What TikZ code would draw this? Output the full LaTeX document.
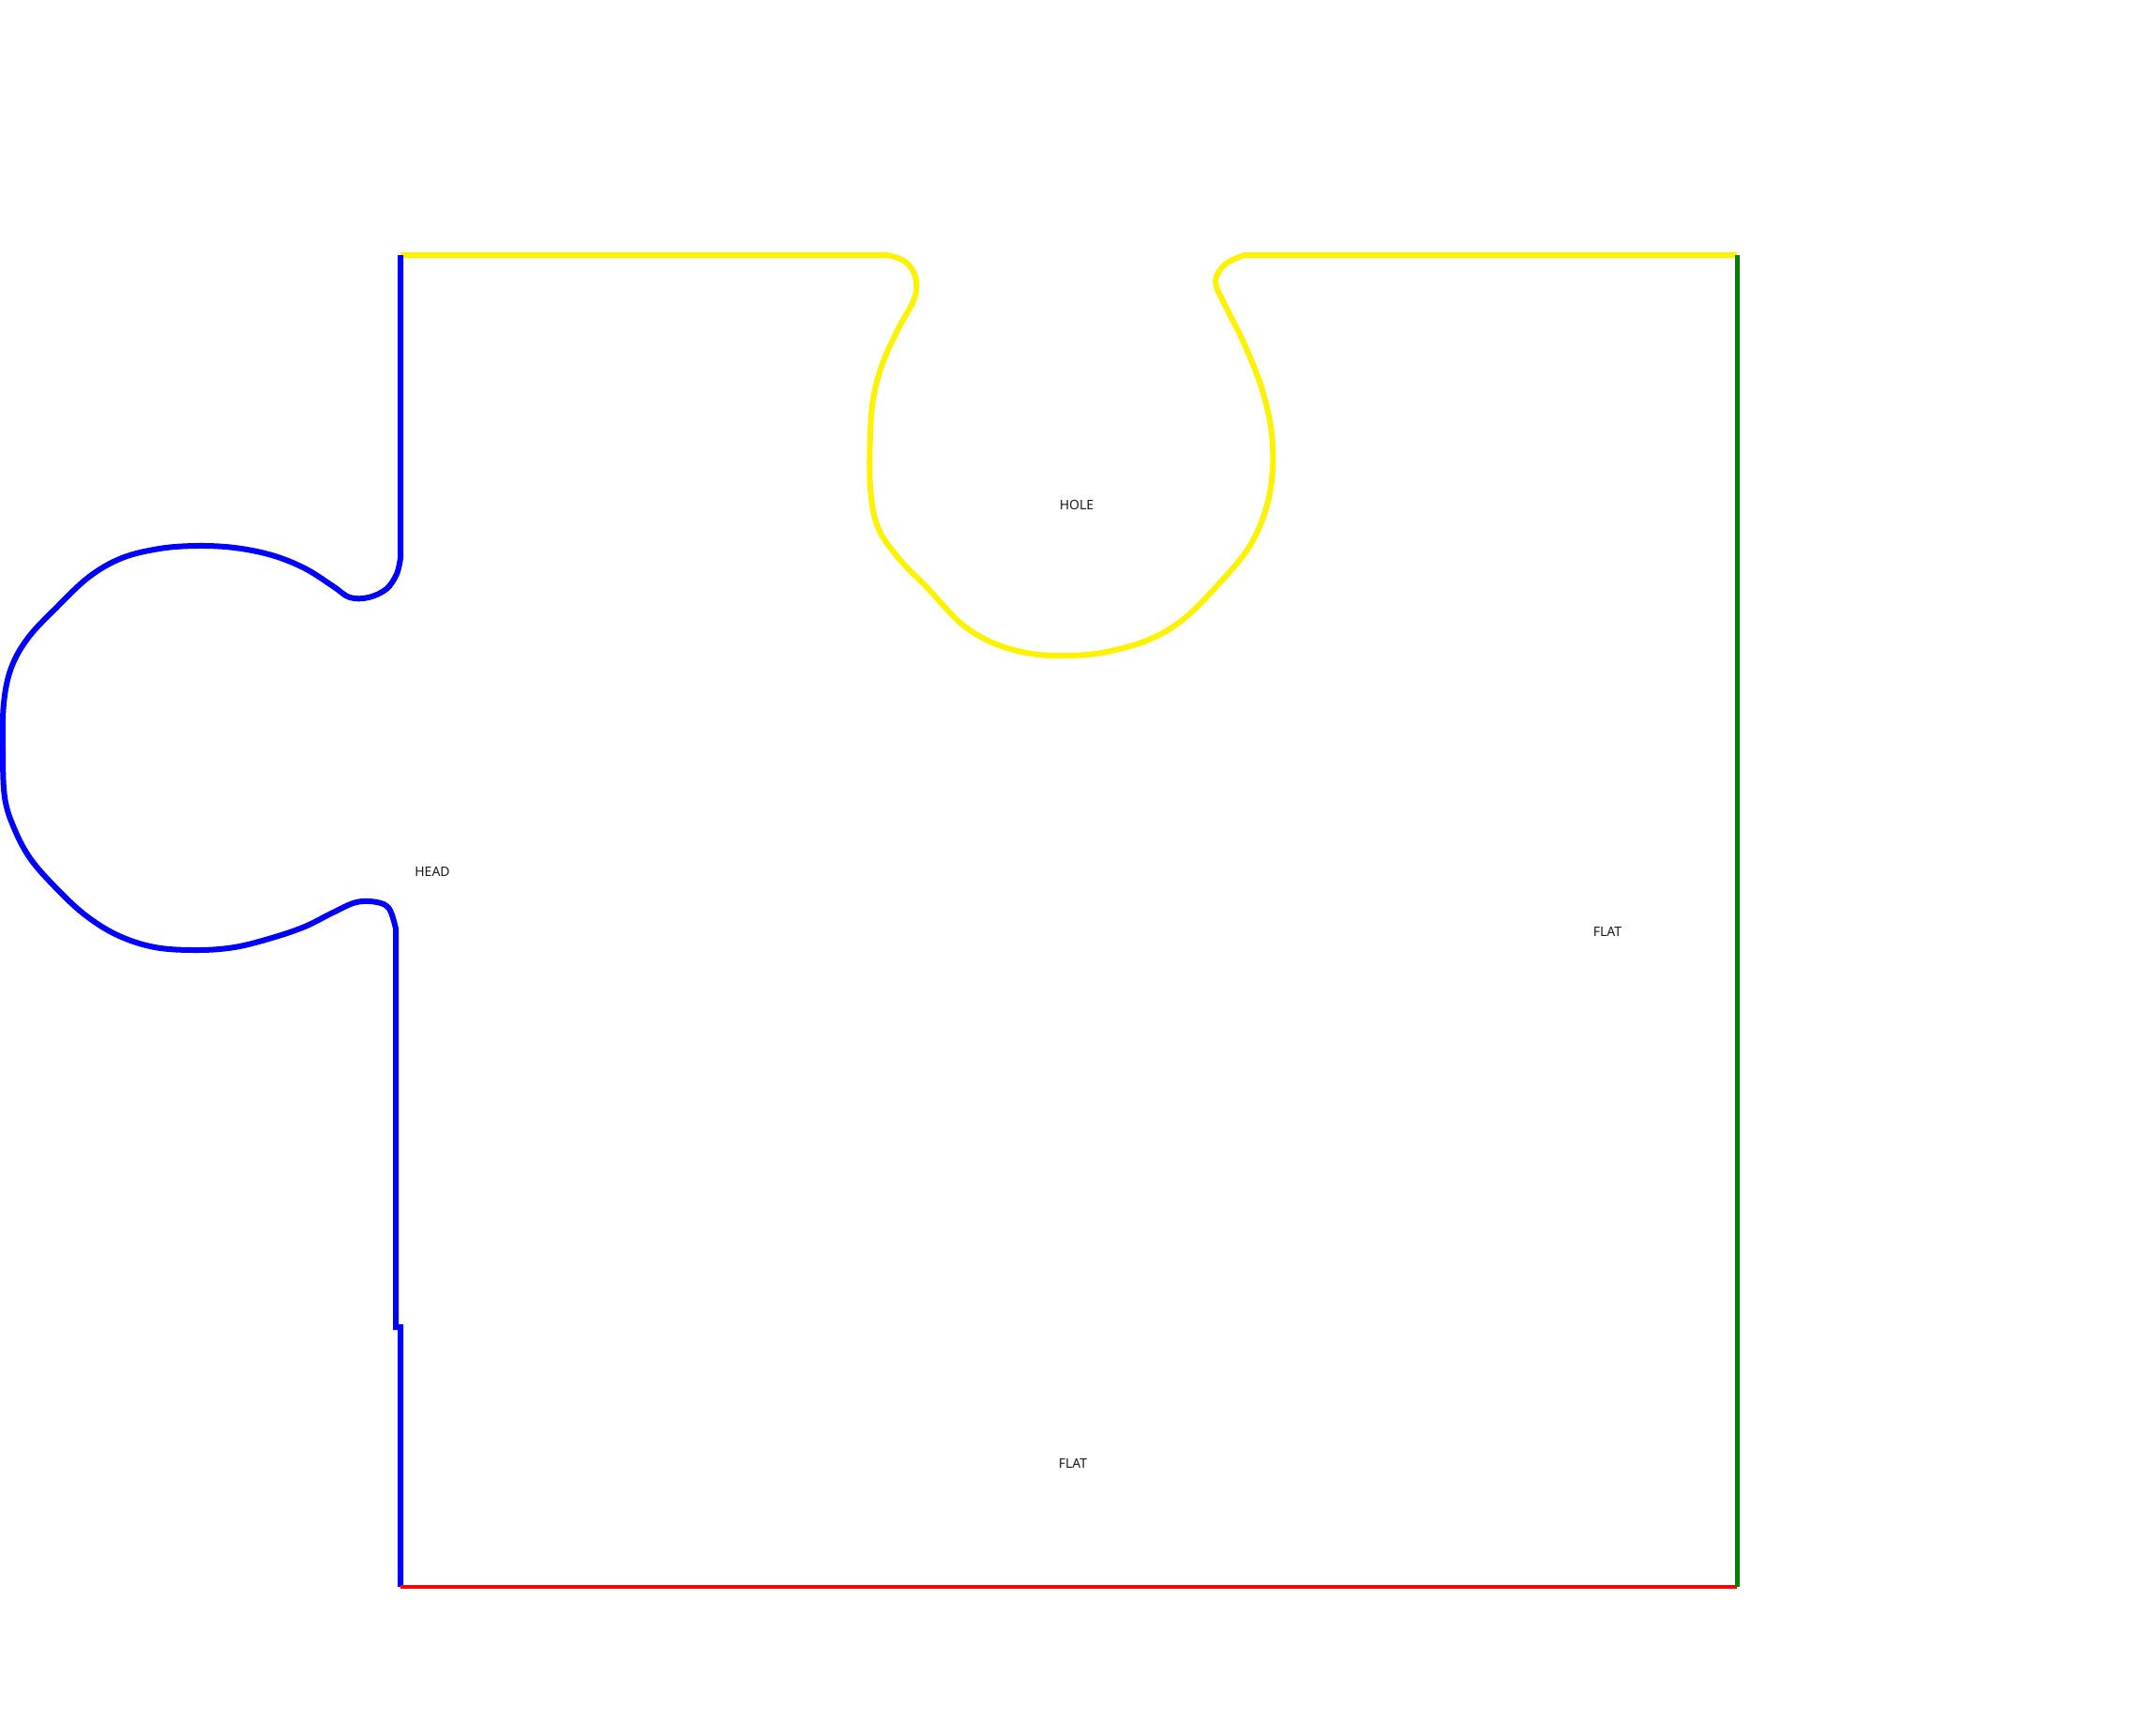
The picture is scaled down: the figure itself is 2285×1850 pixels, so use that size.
\documentclass[tikz,border=0pt]{standalone}
\usepackage{fontspec}
\setmainfont{Noto Sans}
\begin{document}
\begin{tikzpicture}[x=1pt,y=-1pt,
  edgeline/.style={line width=6pt,line join=miter},
  lbl/.style={font=\fontsize{14}{16}\selectfont,text=black!90,inner sep=0pt}]
\useasboundingbox (0,0) rectangle (2285,1850);
% coordinates of corners
\coordinate (tl) at (427,272);
\coordinate (tr) at (1852,272);
\coordinate (br) at (1852,1692);
\coordinate (bl) at (427,1692);
% yellow top edge with hole
\draw[edgeline,yellow] (tl) -- (947,272)
  plot[smooth,tension=0.6] coordinates {(947,272) (965,279) (976,295) (975,318) (958,350) (942,385) (932,420) (928,460) (928,520) (936,562) (958,595) (990,628) (1025,665) (1060,686) (1100,697) (1140,699) (1180,695) (1225,682) (1262,660) (1300,622) (1332,583) (1350,542) (1357,500) (1355,455) (1344,410) (1325,363) (1305,323) (1296,300) (1306,282) (1327,272)}
  -- (tr);
% blue left edge with head
\draw[edgeline,blue] (tl) -- (427,595)
  plot[smooth,tension=0.6] coordinates {(427,595) (423,612) (412,628) (393,637) (373,637) (355,625) (325,606) (290,592) (250,584) (210,582) (170,585) (130,595) (95,615) (60,648) (30,680) (12,712) (4,750) (3,800) (5,850) (15,883) (32,915) (58,945) (90,975) (125,997) (165,1010) (210,1013) (250,1010) (290,1000) (325,988) (355,973) (380,962) (402,962) (415,969) (422,990)}
  -- (422,1415) -- (427,1415) -- (bl);
% red bottom edge
\draw[line width=4.5pt,red] (bl) -- (br);
% green right edge
\draw[line width=5pt,green!50!black] (tr) -- (br);
% labels
\node[lbl] (hole) at (1148,538) {HOLE};
\node[lbl] (head) at (461,929) {HEAD};
\node[lbl] (flatr) at (1714,993) {FLAT};
\node[lbl] (flatb) at (1144,1560) {FLAT};
\end{tikzpicture}
\end{document}
